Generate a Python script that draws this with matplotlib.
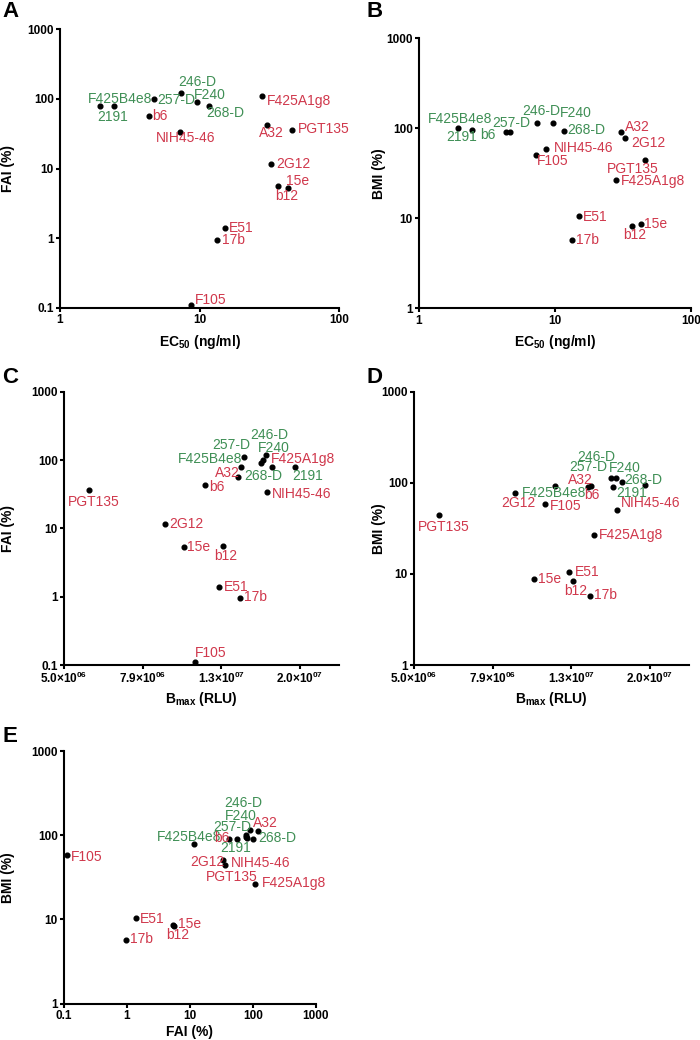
import matplotlib
matplotlib.use("Agg")
import matplotlib.pyplot as plt
import numpy as np

plt.rcParams['font.family'] = ['Liberation Sans', 'DejaVu Sans']
plt.rcParams['mathtext.fontset'] = 'custom'
plt.rcParams['mathtext.rm'] = 'Liberation Sans'
plt.rcParams['mathtext.bf'] = 'Liberation Sans:bold'

# antibody data
names = ['F425B4e8', '2191', '257-D', 'b6', '246-D', 'F240', '268-D', 'NIH45-46', 'F105',
         'F425A1g8', 'A32', 'PGT135', '2G12', 'b12', '15e', 'E51', '17b']
ec50 = [1.94, 2.45, 4.7, 4.35, 7.36, 9.67, 11.65, 7.25, 8.65, 28.2, 30.5, 46.1, 32.6, 36.7, 43.2, 15.15, 13.4]
fai = [78.5, 78.5, 100, 56.4, 120, 90.6, 80, 33.6, 0.11, 110, 42.4, 36.4, 11.5, 5.55, 5.3, 1.39, 0.95]
bmi = [101, 95.3, 89.8, 89.8, 113, 114, 93, 50.4, 58, 26.6, 91.4, 44.4, 78, 8.28, 8.7, 10.55, 5.72]
bmax = [1.69e7, 1.93e7, 1.6e7, 1.386e7, 1.63e7, 1.58e7, 1.41e7, 1.645e7, 1.076e7,
        1.43e7, 1.14e7, 5.79e6, 9.05e6, 1.27e7, 1.01e7, 1.24e7, 1.40e7]
group = ['g', 'g', 'g', 'r', 'g', 'g', 'g', 'r', 'r', 'r', 'r', 'r', 'r', 'r', 'r', 'r', 'r']

GREEN = '#3f8f55'
RED = '#d0384c'

# label offsets (pixels, label left/centre relative to dot)
offsets = {
 'A': [(-12.7, 7.7), (-17.3, -10.7), (3.3, -0.7), (3.3, 0), (-2.7, 11.3), (-3.3, 6.7), (-3, -7.3),
       (-24, -6), (3.7, 5), (5, -5.3), (-8, -7.7), (5.3, 1), (5.3, 0), (-2.7, -10), (-1.7, 6.7),
       (4.3, 0.3), (4.3, 0)],
 'B': [(-30.3, 9), (-25.3, -6.7), (-18, 9.7), (-25.3, -2.7), (-14.7, 12.7), (6.7, 10.3), (3.3, 1),
       (17.7, 7), (-9, -12), (5.3, -1), (4.3, 4.3), (-38, -9.3), (6.7, -4.7), (-8.3, -9.3), (3.3, 0),
       (4, -0.7), (3.7, 0)],
 'C': [(-94, 8), (-3, -9), (-50.3, 15.3), (-28.7, -10), (-15.7, 19.7), (-3, 15), (2.7, -9),
       (4.3, -2), (0.3, 9.3), (27.7, -2), (10, 12.7), (-21.3, -12), (4, 0.3), (-9.3, -10), (3.3, 0),
       (4.3, 0), (3.7, 0.7)],
 'D': [(-100.7, -11), (-28.7, -8.7), (-43, 20), (-4.3, -8.3), (-39, 20.7), (-2, 9.3), (32.7, 5.3),
       (3.7, 6.7), (4.7, -1.7), (5, 0), (13, 6), (-21.3, -11.7), (-14.3, -10.7), (-8.7, -10), (4, 0),
       (5.7, -0.3), (3.7, 0.7)],
 'E': [(-89.3, -2.3), (-26, -11.3), (-40, 12.3), (-22.7, 0.7), (-33.3, 27.3), (-25.7, 14.3),
       (11.3, -0.3), (8, -3), (4.7, -1.7), (6, 0.3), (23.7, 15.7), (-19.3, -11.7), (-3.3, -18),
       (-7.3, -8.7), (5, 0.3), (4, -1), (4, 0.7)],
}
color_override = {'B': {'b6': 'g'}}

fig = plt.figure(figsize=(7, 10.4), dpi=100)
W, H = 700, 1040

def px_axes(l, t, r, b):
    return fig.add_axes([l / W, 1 - b / H, (r - l) / W, (b - t) / H])

bmax_ticks = [5e6 * 10 ** (0.2 * k) for k in range(4)]
bmax_labels = [r'$\mathbf{5.0{\times}10^{06}}$', r'$\mathbf{7.9{\times}10^{06}}$',
               r'$\mathbf{1.3{\times}10^{07}}$', r'$\mathbf{2.0{\times}10^{07}}$']
dec_labels = {0.1: '0.1', 1: '1', 10: '10', 100: '100', 1000: '1000'}

panels = [
    ('A', (60, 29.3, 339, 308), ec50, fai, (1, 100), (0.1, 1000), r'EC$_{\mathbf{50}}$ (ng/ml)', 'FAI (%)', (2, 1), 25),
    ('B', (419, 38, 690.7, 308.3), ec50, bmi, (1, 100), (1, 1000), r'EC$_{\mathbf{50}}$ (ng/ml)', 'BMI (%)', (367, 1), 25),
    ('C', (64, 391.7, 339, 665), bmax, fai, (5e6, 2.5e7), (0.1, 1000), r'B$_{\mathbf{max}}$ (RLU)', 'FAI (%)', (2, 367), 25),
    ('D', (414, 391.7, 689, 665), bmax, bmi, (5e6, 2.5e7), (1, 1000), r'B$_{\mathbf{max}}$ (RLU)', 'BMI (%)', (366, 367), 25),
    ('E', (64, 751, 315.7, 1003.7), fai, bmi, (0.1, 1000), (1, 1000), 'FAI (%)', 'BMI (%)', (2, 726), 21),
]

for letter, box, xs, ys, xlim, ylim, xlab, ylab, lpos, xlpad in panels:
    ax = px_axes(*box)
    ax.set_xscale('log')
    ax.set_yscale('log')
    ax.set_xlim(xlim)
    ax.set_ylim(ylim)
    ax.plot(xs, ys, 'o', color='black', markersize=3.4, clip_on=False, zorder=3)

    over = color_override.get(letter, {})
    for i, n in enumerate(names):
        g = over.get(n, group[i])
        dx, dy = offsets[letter][i]
        ax.annotate(n, (xs[i], ys[i]), xytext=(dx, dy), textcoords='offset pixels',
                    ha='left', va='center', fontsize=10,
                    color=GREEN if g == 'g' else RED, annotation_clip=False)

    for s in ['top', 'right']:
        ax.spines[s].set_visible(False)
    for s in ['left', 'bottom']:
        ax.spines[s].set_linewidth(1.5)
    ax.tick_params(which='major', direction='out', length=3, width=1.5, labelsize=8.5, pad=1.5)

    yt = [v for v in [0.1, 1, 10, 100, 1000] if ylim[0] <= v <= ylim[1]]
    ax.set_yticks(yt)
    ax.set_yticklabels([dec_labels[v] for v in yt], fontweight='bold')
    if letter in ('C', 'D'):
        ax.set_xticks(bmax_ticks)
        ax.set_xticklabels(bmax_labels)
    else:
        xt = [v for v in [0.1, 1, 10, 100, 1000] if xlim[0] <= v <= xlim[1]]
        ax.set_xticks(xt)
        ax.set_xticklabels([dec_labels[v] for v in xt], fontweight='bold')
    ax.minorticks_off()

    bw = box[2] - box[0]
    bh = box[3] - box[1]
    ax.set_xlabel(xlab, fontsize=10, fontweight='bold')
    ax.set_ylabel(ylab, fontsize=10, fontweight='bold')
    ax.yaxis.set_label_coords(-(box[0] - 15 if box[0] < 200 else box[0] - 386) / bw, 0.5)
    ax.xaxis.set_label_coords(0.5, -xlpad / bh)

    fig.text(lpos[0] / W, 1 - lpos[1] / H, letter, fontsize=16, fontweight='bold', va='top', ha='left')

fig.savefig('out.png', dpi=100)
